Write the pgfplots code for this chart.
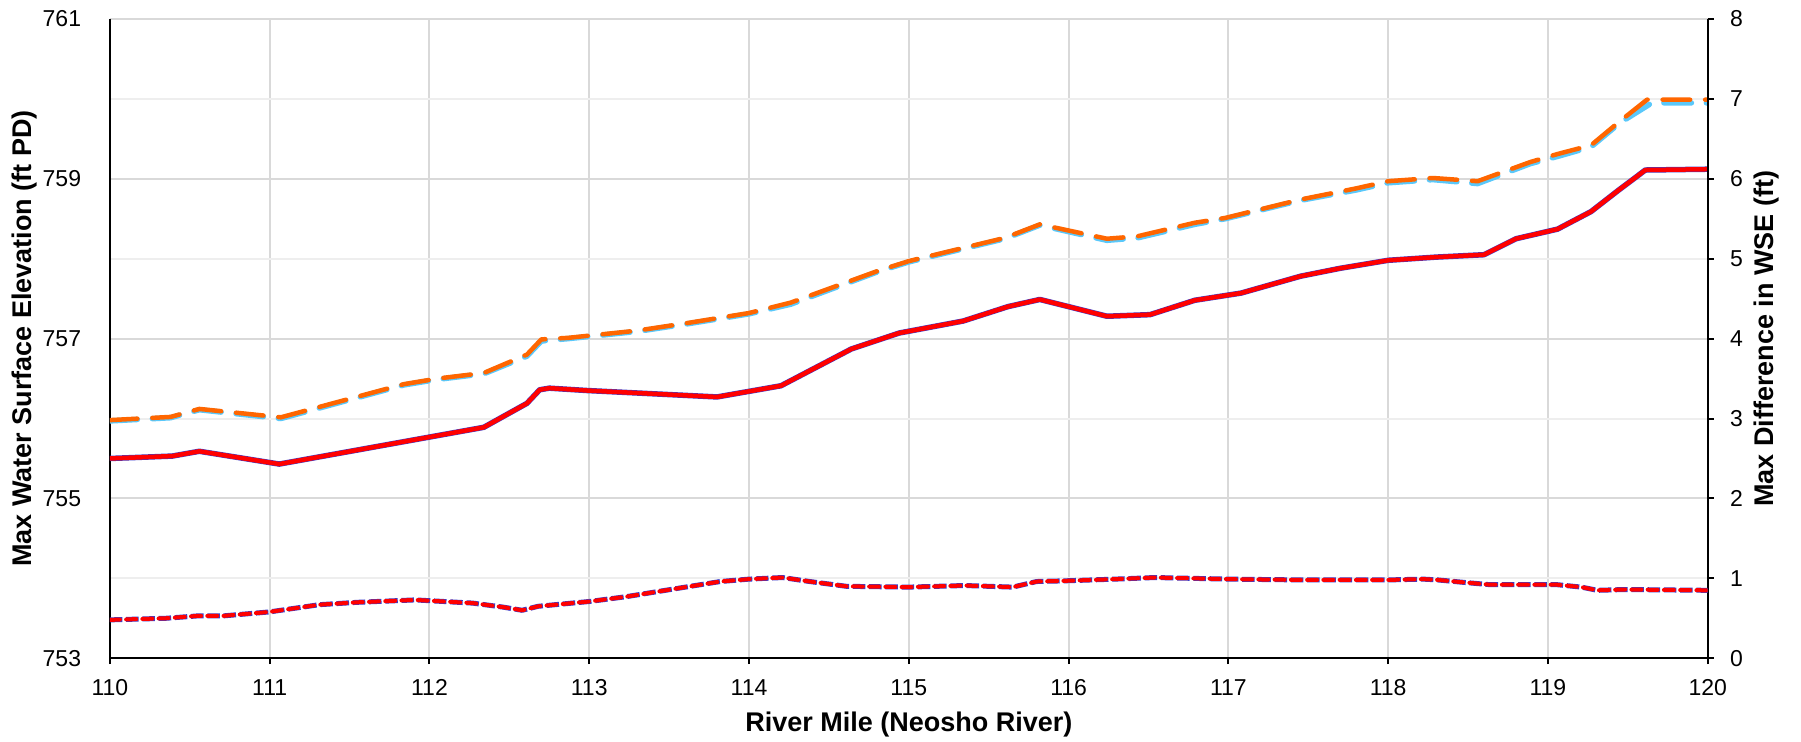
\documentclass[border=0pt]{standalone}
\usepackage{fontspec}
\setmainfont{Liberation Sans}
\usepackage{pgfplots}
\usepackage{pgfplotstable}
\pgfplotsset{compat=1.18}
\definecolor{gridmaj}{RGB}{217,217,217}
\definecolor{gridmin}{RGB}{238,238,238}
\definecolor{wseblue}{RGB}{60,60,200}
\definecolor{orng}{RGB}{255,102,0}
\definecolor{ltblue}{RGB}{90,200,250}

\pgfplotstableread{
x y
110.00 755.50
110.39 755.53
110.56 755.59
111.06 755.43
111.95 755.75
112.34 755.89
112.61 756.19
112.69 756.36
112.75 756.38
112.99 756.35
113.80 756.27
114.20 756.41
114.64 756.87
114.94 757.07
115.34 757.22
115.62 757.40
115.82 757.49
116.24 757.28
116.51 757.30
116.79 757.48
117.08 757.57
117.45 757.78
117.70 757.88
118.00 757.98
118.30 758.02
118.60 758.05
118.80 758.25
119.06 758.37
119.27 758.59
119.45 758.87
119.61 759.11
120.00 759.12
}\solid

\pgfplotstableread{
x y
110.00 755.98
110.38 756.02
110.56 756.12
111.07 756.015
111.84 756.43
112.05 756.50
112.34 756.57
112.61 756.80
112.70 756.99
112.87 757.01
113.30 757.10
113.63 757.20
114.00 757.32
114.26 757.45
114.81 757.85
115.00 757.97
115.60 758.26
115.82 758.43
116.24 758.25
116.43 758.28
116.79 758.45
116.98 758.51
117.45 758.74
117.80 758.88
118.00 758.97
118.28 759.01
118.56 758.97
118.89 759.21
119.06 759.31
119.27 759.42
119.45 759.72
119.62 759.99
120.00 759.99
}\dashedorange

\pgfplotstableread{
x y
110.00 755.97
110.38 756.01
110.56 756.11
111.07 756.00
111.84 756.42
112.05 756.49
112.34 756.56
112.61 756.78
112.70 756.97
112.87 757.00
113.30 757.09
113.63 757.19
114.00 757.31
114.26 757.43
114.81 757.84
115.00 757.96
115.60 758.25
115.82 758.42
116.24 758.23
116.43 758.26
116.79 758.43
116.98 758.50
117.45 758.73
117.80 758.86
118.00 758.95
118.28 758.99
118.56 758.94
118.89 759.19
119.06 759.28
119.27 759.40
119.45 759.70
119.65 759.95
120.00 759.95
}\dashedblue

\pgfplotstableread{
x y
110.00 0.48
110.35 0.50
110.55 0.53
110.71 0.53
111.00 0.58
111.31 0.67
111.55 0.70
111.91 0.73
112.00 0.72
112.27 0.69
112.46 0.64
112.58 0.60
112.68 0.65
113.00 0.71
113.23 0.77
113.57 0.88
113.82 0.96
114.00 0.99
114.21 1.01
114.38 0.96
114.61 0.90
115.00 0.89
115.35 0.91
115.65 0.89
115.80 0.96
116.00 0.97
116.29 0.99
116.54 1.01
117.00 0.99
117.45 0.98
118.00 0.98
118.22 0.99
118.31 0.98
118.47 0.95
118.64 0.92
119.06 0.92
119.21 0.89
119.31 0.85
119.48 0.86
120.00 0.85
}\diff

\begin{document}
\begin{tikzpicture}
\pgfplotsset{
  every axis/.append style={
    scale only axis, width=639.1pt, height=255.7pt,
    xmin=110, xmax=120,
    font=\fontsize{9.2}{11}\selectfont,
    /pgf/number format/assume math mode=true,
    axis line style={line width=0.8pt, black},
    tick style={black, line width=0.8pt},
    line join=round,
  }
}
\begin{axis}[name=main,
  axis x line*=bottom, axis y line*=left,
  ymin=753, ymax=761,
  ytick={753,755,757,759,761}, minor ytick={754,756,758,760},
  xtick={110,111,...,120},
  major tick length=0pt, minor tick length=0pt,
  grid=both,
  major grid style={gridmaj, line width=0.8pt},
  minor grid style={gridmin, line width=0.8pt},
  xticklabel style={yshift=-5pt},
  yticklabel style={xshift=-8pt},
  xlabel={River Mile (Neosho River)},
  ylabel={Max Water Surface Elevation (ft PD)},
  every axis x label/.style={at={(axis description cs:0.5,0)}, yshift=-26.7pt, anchor=center, font=\fontsize{10.8}{13}\selectfont\bfseries},
  every axis y label/.style={at={(axis description cs:-0.0532,0.5)}, rotate=90, anchor=center, font=\fontsize{10.8}{13}\selectfont\bfseries},
]
\addplot[ltblue, line width=2.2pt, dash pattern=on 11pt off 6pt, line cap=round, mark=none] table[x=x,y=y] {\dashedblue};
\addplot[orng, line width=1.8pt, dash pattern=on 11pt off 6pt, line cap=round, mark=none] table[x=x,y=y] {\dashedorange};
\addplot[wseblue, line width=2.2pt, mark=none] table[x=x,y=y] {\solid};
\addplot[red, line width=1.8pt, mark=none] table[x=x,y=y] {\solid};
\end{axis}
\begin{axis}[
  axis x line*=bottom, axis y line*=right,
  ymin=0, ymax=8, ytick={0,1,...,8},
  xtick={110,111,...,120}, xticklabels={},
  tick align=outside, major tick length=2.4pt,
  yticklabel style={xshift=3pt},
  ylabel={Max Difference in WSE (ft)},
  every axis y label/.style={at={(axis description cs:1.0371,0.5)}, rotate=90, anchor=center, font=\fontsize{10.8}{13}\selectfont\bfseries},
]
\addplot[wseblue, line width=2.0pt, dash pattern=on 5pt off 1.5pt, mark=none] table[x=x,y=y] {\diff};
\addplot[red, line width=1.6pt, dash pattern=on 4pt off 2.5pt, line cap=round, mark=none] table[x=x,y=y] {\diff};
\end{axis}
\pgfresetboundingbox
\path ([shift={(-43.96pt,-33.48pt)}]main.south west) rectangle ([shift={(37.32pt,7.6pt)}]main.north east);
\end{tikzpicture}
\end{document}
